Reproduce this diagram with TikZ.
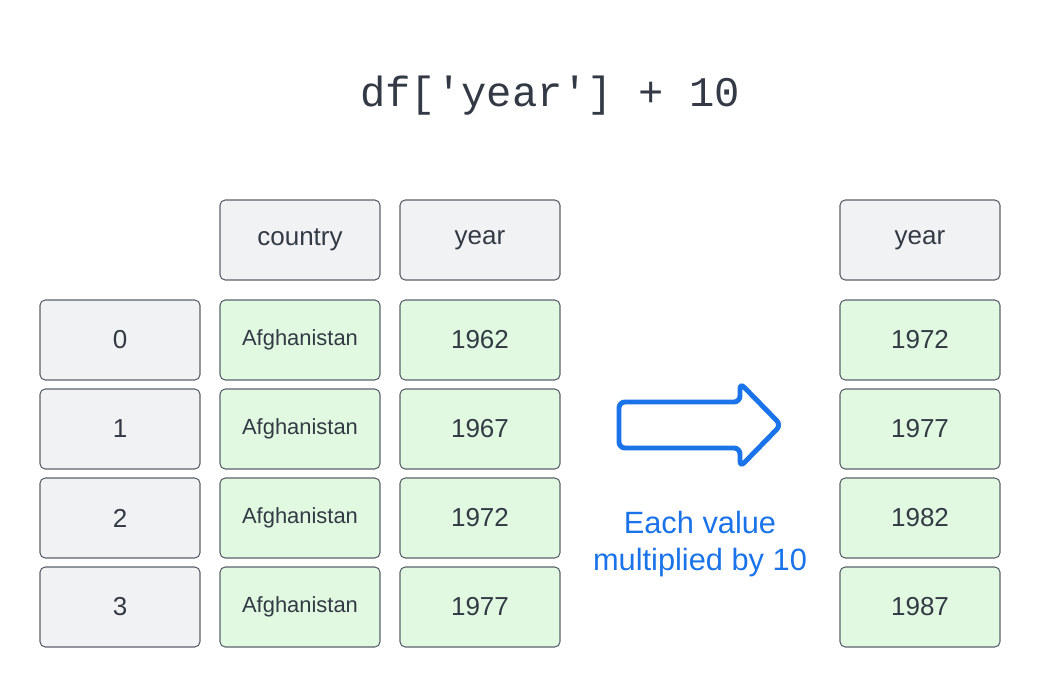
\documentclass[tikz,border=0pt]{standalone}
\usepackage{fontspec}
\setmainfont{Liberation Sans}
\setmonofont{Liberation Mono}
\usetikzlibrary{positioning}

\definecolor{inkgray}{HTML}{333A45}
\definecolor{cellgray}{HTML}{F1F2F4}
\definecolor{cellgreen}{HTML}{E1F9E1}
\definecolor{edgegray}{HTML}{5A616B}
\definecolor{noteblue}{HTML}{1A73E8}

\begin{document}
\begin{tikzpicture}[
    cell/.style = {
        rectangle,
        rounded corners=0.13cm,
        draw=edgegray,
        line width=0.75pt,
        text=inkgray,
        align=center,
        minimum height=2cm,
        minimum width=4cm,
        font=\fontsize{18.5}{22}\selectfont
    },
    headcell/.style = {cell, fill=cellgray},
    idxcell/.style = {cell, fill=cellgray},
    valcell/.style = {cell, fill=cellgreen},
    countrycell/.style = {valcell, font=\fontsize{15.6}{19}\selectfont},
    bigarrow/.style = {
        draw=noteblue,
        line width=3.5pt,
        rounded corners=0.15cm
    }
]

\useasboundingbox (0,0) rectangle (26,-17.175);

% Title
\node[text=inkgray, font=\ttfamily\fontsize{30}{36}\selectfont] (title) at (13.75,-2.4) {df['year'] + 10};

% Header cells
\node[headcell] (hcountry) at (7.5,-6)  {country};
\node[headcell] (hyear)    at (12,-6)   {year};
\node[headcell] (hresult)  at (23,-6)   {year};

% Index column
\node[idxcell] (i0) at (3,-8.5)    {0};
\node[idxcell] (i1) at (3,-10.725) {1};
\node[idxcell] (i2) at (3,-12.95)  {2};
\node[idxcell] (i3) at (3,-15.175) {3};

% Country column
\node[countrycell] (c0) at (7.5,-8.5)    {Afghanistan};
\node[countrycell] (c1) at (7.5,-10.725) {Afghanistan};
\node[countrycell] (c2) at (7.5,-12.95)  {Afghanistan};
\node[countrycell] (c3) at (7.5,-15.175) {Afghanistan};

% Year column
\node[valcell] (y0) at (12,-8.5)    {1962};
\node[valcell] (y1) at (12,-10.725) {1967};
\node[valcell] (y2) at (12,-12.95)  {1972};
\node[valcell] (y3) at (12,-15.175) {1977};

% Result column
\node[valcell] (r0) at (23,-8.5)    {1972};
\node[valcell] (r1) at (23,-10.725) {1977};
\node[valcell] (r2) at (23,-12.95)  {1982};
\node[valcell] (r3) at (23,-15.175) {1987};

% Block arrow and its note
\draw[bigarrow] (15.475,-10.05) -- (18.5,-10.05) -- (18.5,-9.575) -- (19.525,-10.625)
    -- (18.5,-11.675) -- (18.5,-11.2) -- (15.475,-11.2) -- cycle;
\node[text=noteblue, align=center, font=\fontsize{21.9}{26.2}\selectfont] (note) at (17.5,-13.6)
    {Each value\\multiplied by 10};

\end{tikzpicture}
\end{document}
